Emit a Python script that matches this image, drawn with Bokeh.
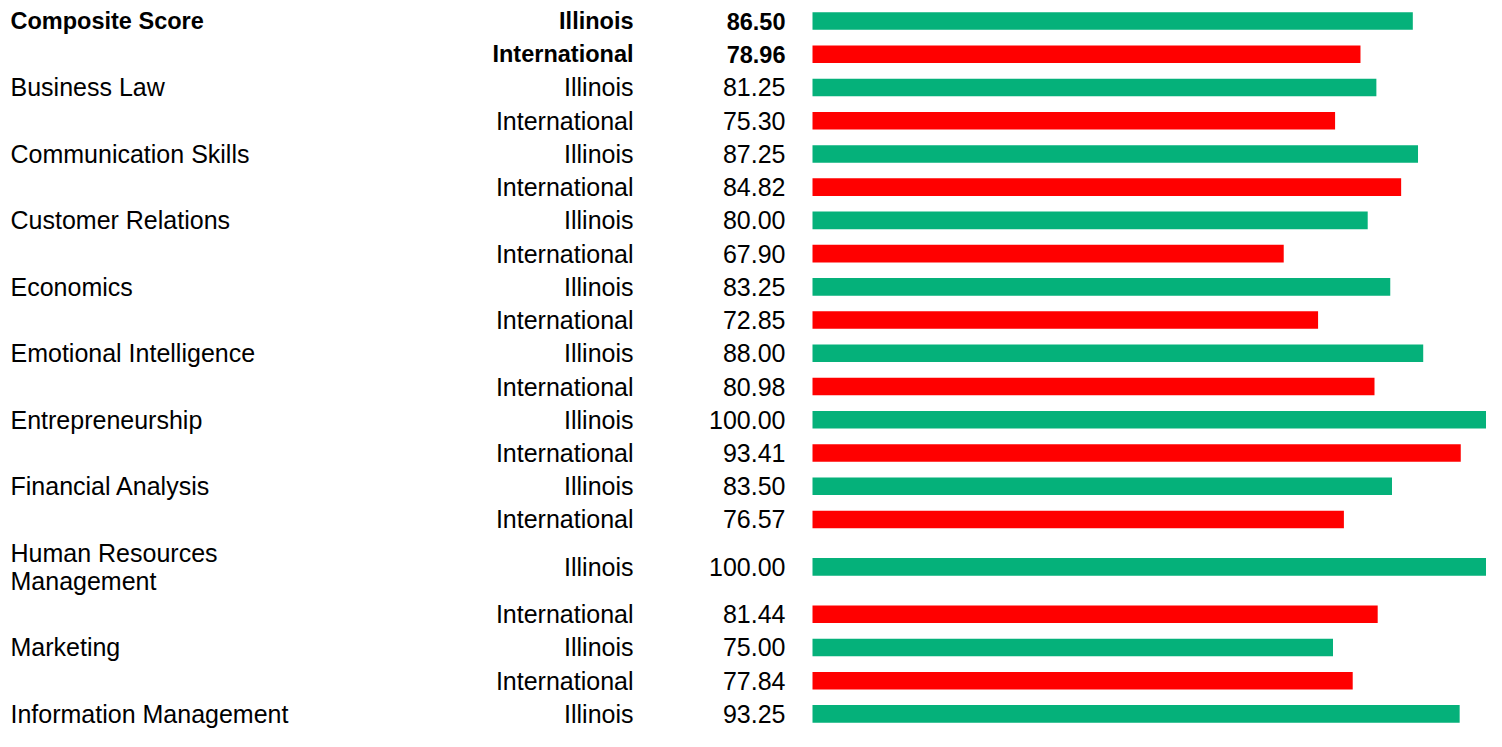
import textwrap
from bokeh.plotting import figure
from bokeh.models import Range1d, ColumnDataSource
from bokeh.core.properties import value
from bokeh.embed import file_html
from bokeh.resources import INLINE

# ---- data ----
categories = ["Composite Score", "Business Law", "Communication Skills", "Customer Relations",
              "Economics", "Emotional Intelligence", "Entrepreneurship", "Financial Analysis",
              "Human Resources Management", "Marketing", "Information Management"]
groups = ["Illinois", "International"]
illinois = [86.50, 81.25, 87.25, 80.00, 83.25, 88.00, 100.00, 83.50, 100.00, 75.00, 93.25]
international = [78.96, 75.30, 84.82, 67.90, 72.85, 80.98, 93.41, 76.57, 81.44, 77.84]

GREEN = "#05B17A"
RED = "#FF0000"
FONT = "Liberation Sans"

# ---- layout (reference pixels) ----
W, H = 1486, 731
PX = 6.94          # pixels per score unit
BAR0 = 812         # x of score 0
ROW = 34
LINE = 29
BAR_H = 18


def sx(s):
    """pixel x -> data x"""
    return (s - BAR0) / PX


rows = []  # (y_center, group_idx, value, category_lines or None, bold)
top = 5
for ci, cat in enumerate(categories):
    lines = textwrap.wrap(cat, 24)
    bold = ci == 0
    series = [illinois, international]
    for gi, g in enumerate(groups):
        if ci >= len(series[gi]):
            continue
        v = series[gi][ci]
        h = ROW + (LINE * (len(lines) - 1) if gi == 0 else 0)
        yc = top + h / 2
        rows.append((yc, gi, v, lines if gi == 0 else None, bold))
        top += h

p = figure(width=W, height=H, output_backend="svg", toolbar_location=None,
           x_range=Range1d(sx(0), sx(W)), y_range=Range1d(749, 1),
           x_axis_location=None, y_axis_location=None, min_border=0)
p.grid.visible = False
p.outline_line_color = None
p.background_fill_color = "white"

bar_src = ColumnDataSource(dict(
    y=[r[0] for r in rows],
    right=[r[2] for r in rows],
    color=[GREEN if r[1] == 0 else RED for r in rows],
))
p.hbar(y="y", left=0, right="right", height=BAR_H, fill_color="color", line_color=None,
       source=bar_src)


def add_text(xs, ys, texts, align, bold, size):
    if not texts:
        return
    p.text(x=xs, y=ys, text=texts, text_align=align, text_baseline="middle",
           text_font=value(FONT), text_font_size=size,
           text_font_style="bold" if bold else "normal", text_color="black")


for bold in (True, False):
    size = "23.5px" if bold else "25px"
    sel = [r for r in rows if r[4] == bold]
    add_text([sx(633)] * len(sel), [r[0] for r in sel],
             [groups[r[1]] for r in sel], "right", bold, size)
    add_text([sx(785)] * len(sel), [r[0] for r in sel],
             [f"{r[2]:.2f}" for r in sel], "right", bold, size)
    cx, cy, ct = [], [], []
    for r in sel:
        if r[3] is None:
            continue
        n = len(r[3])
        for li, t in enumerate(r[3]):
            cx.append(sx(10))
            cy.append(r[0] + (li - (n - 1) / 2) * LINE)
            ct.append(t)
    add_text(cx, cy, ct, "left", bold, size)

open("out.html", "w").write(file_html(p, INLINE))
